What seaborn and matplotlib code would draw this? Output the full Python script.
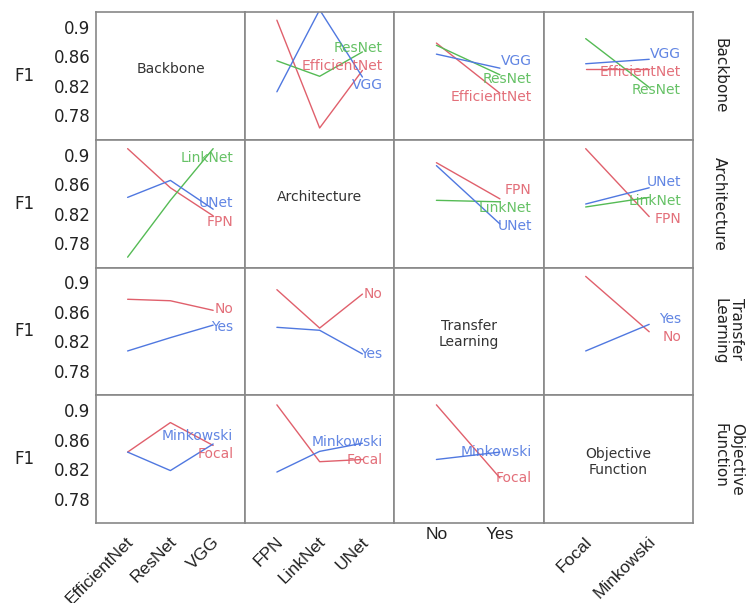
"""
    Interaction plot matrix of F1 score for four experiment factors.
"""

import numpy as np
import pandas as pd
import seaborn as sns
import matplotlib.pyplot as plt
import matplotlib.transforms as mtransforms

# factor levels
backbone = ["EfficientNet", "ResNet", "VGG"]
architecture = ["FPN", "LinkNet", "UNet"]
transfer = ["No", "Yes"]
objective = ["Focal", "Minkowski"]

factors = ["Backbone", "Architecture", "Transfer\nLearning", "Objective\nFunction"]
levels = [backbone, architecture, transfer, objective]

# mean F1, trace factor (row) against x factor (column)
backbone_by_arch = {"EfficientNet": [0.909, 0.763, 0.841],
                    "ResNet": [0.854, 0.833, 0.866],
                    "VGG": [0.812, 0.923, 0.832]}
backbone_by_transfer = {"EfficientNet": [0.878, 0.810],
                        "ResNet": [0.875, 0.835],
                        "VGG": [0.863, 0.844]}
backbone_by_objective = {"EfficientNet": [0.843, 0.843],
                         "ResNet": [0.884, 0.818],
                         "VGG": [0.850, 0.856]}

arch_by_backbone = {"FPN": [0.908, 0.855, 0.817],
                    "LinkNet": [0.761, 0.838, 0.908],
                    "UNet": [0.842, 0.865, 0.826]}
arch_by_transfer = {"FPN": [0.889, 0.840],
                    "LinkNet": [0.838, 0.836],
                    "UNet": [0.885, 0.806]}
arch_by_objective = {"FPN": [0.908, 0.816],
                     "LinkNet": [0.829, 0.842],
                     "UNet": [0.833, 0.855]}

transfer_by_backbone = {"No": [0.877, 0.875, 0.862],
                        "Yes": [0.807, 0.825, 0.842]}
transfer_by_arch = {"No": [0.890, 0.838, 0.884],
                    "Yes": [0.839, 0.835, 0.803]}
transfer_by_objective = {"No": [0.908, 0.833],
                         "Yes": [0.807, 0.843]}

objective_by_backbone = {"Focal": [0.843, 0.883, 0.852],
                         "Minkowski": [0.843, 0.818, 0.854]}
objective_by_arch = {"Focal": [0.907, 0.830, 0.833],
                     "Minkowski": [0.816, 0.844, 0.855]}
objective_by_transfer = {"Focal": [0.907, 0.808],
                         "Minkowski": [0.833, 0.843]}

panels = {(0, 1): backbone_by_arch, (0, 2): backbone_by_transfer, (0, 3): backbone_by_objective,
          (1, 0): arch_by_backbone, (1, 2): arch_by_transfer, (1, 3): arch_by_objective,
          (2, 0): transfer_by_backbone, (2, 1): transfer_by_arch, (2, 3): transfer_by_objective,
          (3, 0): objective_by_backbone, (3, 1): objective_by_arch, (3, 2): objective_by_transfer}

yticks = [0.78, 0.82, 0.86, 0.9]

RED, GREEN, BLUE = "#e0606c", "#55bb55", "#5078e0"
palette = {"EfficientNet": RED, "ResNet": GREEN, "VGG": BLUE,
           "FPN": RED, "LinkNet": GREEN, "UNet": BLUE,
           "No": RED, "Yes": BLUE, "Focal": RED, "Minkowski": BLUE}

YLIM = (0.747, 0.92)


def spread(values, gap, lo, hi):
    """
        Push label positions apart so they keep a minimal gap.
    """
    order = np.argsort(values)
    pos = np.array(values, dtype=float)[order]
    for _ in range(300):
        for i in range(len(pos) - 1):
            d = pos[i + 1] - pos[i]
            if d < gap:
                pos[i] -= (gap - d) / 2
                pos[i + 1] += (gap - d) / 2
        pos = np.clip(pos, lo, hi)
    out = np.empty_like(pos)
    out[order] = pos
    return out


rows = []
for (r, c), series in panels.items():
    for level, vals in series.items():
        for i, v in enumerate(vals):
            rows.append({"row": r, "col": c, "level": level, "x": i, "F1": v})
df = pd.DataFrame(rows)

sns.set_style("white")
plt.rcParams["font.family"] = ["DejaVu Sans"]

fig, axes = plt.subplots(4, 4, figsize=(7.48, 6.03), dpi=100)
fig.subplots_adjust(left=0.1283, right=0.9265, top=0.980, bottom=0.1327, wspace=0, hspace=0)

for r in range(4):
    for c in range(4):
        ax = axes[r, c]
        n = len(levels[c])
        ax.set_xlim((-0.74, 2.75) if n == 3 else (-0.66, 1.69))
        ax.set_ylim(*YLIM)
        if r == c:
            ypos = 0.555 if "\n" not in factors[r] else 0.48
            ax.text(0.5, ypos, factors[r], ha="center", va="center", transform=ax.transAxes,
                    fontsize=10, color="#333333")
        else:
            sub = df[(df.row == r) & (df.col == c)]
            sns.lineplot(data=sub, x="x", y="F1", hue="level", palette=palette, ax=ax,
                         legend=False, linewidth=1.0, sort=False)
            names = list(panels[(r, c)].keys())
            ends = [panels[(r, c)][k][-1] for k in names]
            ys = spread(ends, 0.0247, YLIM[0] + 0.025, YLIM[1] - 0.025)
            for name, y in zip(names, ys):
                ax.text(0.92, y, name, transform=ax.get_yaxis_transform(), ha="right",
                        va="center", fontsize=10, color=palette[name], alpha=0.9)
        ax.set_xlabel("")
        ax.set_ylabel("")
        ax.set_xticks(range(n))
        ax.set_yticks(yticks)
        ax.tick_params(length=0)
        for s in ax.spines.values():
            s.set_color("#888888")
            s.set_linewidth(1.2)
        if c == 0:
            ax.set_yticklabels([f"{t:g}" for t in yticks], fontsize=12, color="#222222")
            ax.tick_params(axis="y", pad=4)
            ax.set_ylabel("F1", rotation=0, fontsize=12, color="#222222", ha="center", va="center")
            ax.yaxis.set_label_coords(-0.48, 0.5)
        else:
            ax.set_yticklabels([])
        if r == 3:
            rot = 0 if c == 2 else 45
            ax.set_xticklabels(levels[c], rotation=rot, ha="center" if rot == 0 else "right",
                               fontsize=12.5, color="#222222",
                               family=["Liberation Sans Narrow", "Liberation Sans", "DejaVu Sans"])
            ax.tick_params(axis="x", pad=3 if rot == 0 else 8)
            if rot:
                shift = mtransforms.ScaledTranslation(0.09, 0, fig.dpi_scale_trans)
                for lab in ax.get_xticklabels():
                    lab.set_transform(lab.get_transform() + shift)
        else:
            ax.set_xticklabels([])
        if c == 3:
            ax.annotate(factors[r], xy=(1, 0.5), xycoords="axes fraction", xytext=(19, 0),
                        textcoords="offset pixels", rotation=-90, ha="left", va="center",
                        fontsize=11, color="#222222")

fig.savefig("out.png", dpi=100)
